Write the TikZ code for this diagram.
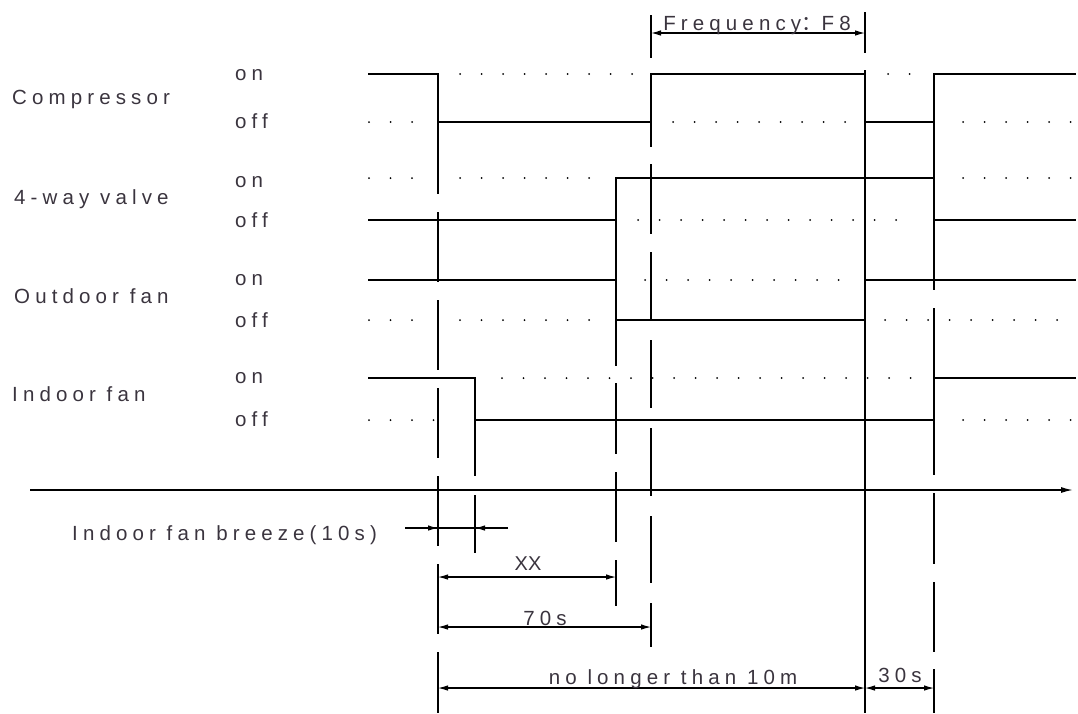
\documentclass[tikz,border=0pt]{standalone}
\usepackage{fontspec}
\setmainfont{Liberation Sans}
\newfontfamily\lbl[LetterSpace=25]{Liberation Sans}
\newfontfamily\cjkf{Noto Sans CJK SC}
\usetikzlibrary{arrows.meta}
\definecolor{txt}{RGB}{58,52,62}
\tikzset{
  sig/.style={line width=1.5pt, line join=miter},
  vline/.style={line width=1.5pt},
  dotrow/.style={line width=2pt, line cap=round, dash pattern=on 0pt off 21.5pt},
  dimln/.style={line width=1.1pt},
  tip/.tip={Latex[length=10pt,width=5.5pt]},
  lab/.style={font=\lbl\fontsize{20.5}{22}\selectfont, text=txt, inner sep=0pt},
}
\begin{document}
\begin{tikzpicture}[x=1pt,y=-1pt]
\useasboundingbox (0,0) rectangle (1078,713);

% ---- row labels
\node[lab,anchor=base west] (cmp) at (12,104) {Compressor};
\node[lab,anchor=base west] (vlv) at (14,204) {4-way valve};
\node[lab,anchor=base west] (ofan) at (14,303) {Outdoor fan};
\node[lab,anchor=base west] (ifan) at (12,401) {Indoor fan};
\node[lab,anchor=base west] (on1) at (235,80) {on};
\node[lab,anchor=base west] (off1) at (235,128) {off};
\node[lab,anchor=base west] (on2) at (235,187) {on};
\node[lab,anchor=base west] (off2) at (235,227) {off};
\node[lab,anchor=base west] (on3) at (235,285) {on};
\node[lab,anchor=base west] (off3) at (235,327) {off};
\node[lab,anchor=base west] (on4) at (235,383) {on};
\node[lab,anchor=base west] (off4) at (235,426) {off};

% ---- signals
\draw[sig] (368,74) -- (438,74) -- (438,122) -- (651,122) -- (651,74) -- (865,74)
           -- (865,122) -- (934,122) -- (934,74) -- (1076,74);
\draw[sig] (368,220) -- (616,220) -- (616,178) -- (934,178) -- (934,220) -- (1076,220);
\draw[sig] (368,280) -- (616,280) -- (616,320) -- (865,320) -- (865,280) -- (1076,280);
\draw[sig] (368,378) -- (475,378) -- (475,420) -- (934,420) -- (934,378) -- (1076,378);

% ---- dotted (inactive) levels
\draw[dotrow] (460,74) -- (633,74);
\draw[dotrow] (888,74) -- (912,74);
\draw[dotrow] (369,122) -- (416,122);
\draw[dotrow] (673,122) -- (847,122);
\draw[dotrow] (963,122) -- (1078,122);
\draw[dotrow] (369,178) -- (419,178);
\draw[dotrow] (460,178) -- (591,178);
\draw[dotrow] (963,178) -- (1078,178);
\draw[dotrow] (638,220) -- (916,220);
\draw[dotrow] (645,280) -- (839,280);
\draw[dotrow] (369,320) -- (419,320);
\draw[dotrow] (460,320) -- (591,320);
\draw[dotrow] (885,320) -- (1078,320);
\draw[dotrow] (502,378) -- (917,378);
\draw[dotrow] (369,420) -- (454,420);
\draw[dotrow] (963,420) -- (1078,420);

% ---- vertical (dashed) event lines
\draw[vline] (438,74) -- (438,194) (438,212) -- (438,282) (438,300) -- (438,370)
             (438,388) -- (438,458) (438,476) -- (438,546) (438,564) -- (438,634)
             (438,652) -- (438,713);
\draw[vline] (475,378) -- (475,476) (475,495) -- (475,553);
\draw[vline] (616,178) -- (616,366) (616,383) -- (616,454) (616,472) -- (616,542)
             (616,560) -- (616,606);
\draw[vline] (651,15) -- (651,58) (651,74) -- (651,147) (651,164) -- (651,234)
             (651,252) -- (651,320) (651,340) -- (651,408) (651,428) -- (651,496)
             (651,516) -- (651,583) (651,603) -- (651,647);
\draw[vline] (865,12) -- (865,53) (865,70) -- (865,713);
\draw[vline] (934,74) -- (934,290) (934,308) -- (934,388) (934,405) -- (934,475)
             (934,493) -- (934,564) (934,582) -- (934,652) (934,669) -- (934,713);

% ---- time axis
\draw[line width=1.5pt,-{Latex[length=12pt,width=6pt]}] (30,490) -- (1073,490);

% ---- dimensions
\draw[dimln,tip-tip] (651,33) -- (865,33);
\node[lab,anchor=base] (freq) at (757,30) {Frequency{\cjkf ：}F8};

\draw[dimln] (405,528) -- (508,528);
\draw[dimln,-tip] (405,528) -- (438,528);
\draw[dimln,-tip] (508,528) -- (475,528);
\node[lab,anchor=base west] (breeze) at (72,540) {Indoor fan breeze(10s)};

\draw[dimln,tip-tip] (438,577) -- (616,577);
\node[font=\fontsize{20}{22}\selectfont, text=txt, inner sep=0pt, anchor=base] (xx) at (528,570) {XX};

\draw[dimln,tip-tip] (438,627) -- (651,627);
\node[lab,anchor=base] (t70) at (545,625) {70s};

\draw[dimln,tip-tip] (438,688) -- (865,688);
\node[lab,anchor=base] (t10m) at (673,684) {no longer than 10m};

\draw[dimln,tip-tip] (865,688) -- (934,688);
\node[lab,anchor=base] (t30) at (900,682) {30s};
\end{tikzpicture}
\end{document}
